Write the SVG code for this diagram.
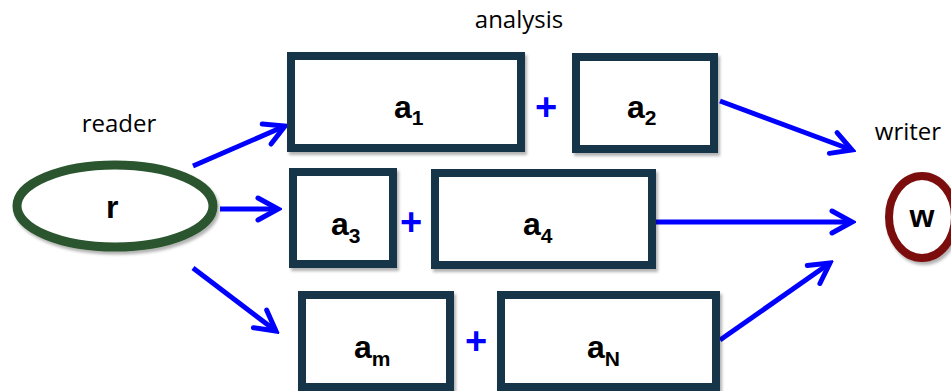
<svg xmlns="http://www.w3.org/2000/svg" width="951" height="391" viewBox="0 0 951 391">
<style>
.box{fill:#fff;stroke:#15364a;stroke-width:8;filter:url(#sh)}
.lbl{font-family:"Liberation Sans",Arial,sans-serif;font-weight:bold;font-size:32px;fill:#000}
.sub{font-size:21px}
.plus{font-family:"Liberation Sans",Arial,sans-serif;font-weight:bold;font-size:38px;fill:#0000ff;text-anchor:middle}
.cap{font-family:"Open Sans","Liberation Sans",Arial,sans-serif;font-size:24px;fill:#000;text-anchor:middle}
.arr{stroke:#0000ff;stroke-width:5;fill:none;marker-end:url(#ah)}
</style>
<defs>
<filter id="sh" x="-10%" y="-10%" width="130%" height="130%">
<feDropShadow dx="2" dy="3" stdDeviation="1.8" flood-color="#000" flood-opacity="0.3"/>
</filter>
<marker id="ah" markerUnits="userSpaceOnUse" viewBox="-24 -14 28 28" refX="0" refY="0" markerWidth="28" markerHeight="28" orient="auto">
<path d="M-20,-11 L0,0 L-20,11" fill="none" stroke="#0000ff" stroke-width="5" stroke-linecap="round" stroke-linejoin="miter"/>
</marker>
</defs>
<rect width="951" height="391" fill="#fff"/>
<text class="cap" x="519" y="28">analysis</text>
<text class="cap" x="119" y="132">reader</text>
<text class="cap" x="908" y="140">writer</text>

<g id="connectors">
<line class="arr" x1="193" y1="166" x2="285" y2="126"/>
<line class="arr" x1="220" y1="209" x2="278" y2="209"/>
<line class="arr" x1="193" y1="268" x2="276" y2="331"/>
<line class="arr" x1="720" y1="101" x2="852" y2="150"/>
<line class="arr" x1="656" y1="222" x2="852" y2="222"/>
<line class="arr" x1="720" y1="340" x2="830" y2="263"/>
</g>

<g id="reader">
<ellipse cx="115" cy="206" rx="98" ry="41" fill="#fff" stroke="#2a552d" stroke-width="9" filter="url(#sh)"/>
<text class="lbl" x="106" y="218" font-size="29">r</text>
</g>
<g id="writer">
<ellipse cx="922" cy="217" rx="33" ry="41" fill="#fff" stroke="#7b0d0d" stroke-width="8" filter="url(#sh)"/>
<text class="lbl" x="922" y="227" font-size="24" text-anchor="middle">w</text>
</g>

<g id="a1">
<rect class="box" x="291" y="56" width="230" height="92"/>
<text class="lbl" x="394" y="118">a<tspan class="sub" dy="7">1</tspan></text>
</g>
<text class="plus" x="546" y="120">+</text>
<g id="a2">
<rect class="box" x="576" y="57" width="138" height="92"/>
<text class="lbl" x="627" y="118">a<tspan class="sub" dy="7">2</tspan></text>
</g>

<g id="a3">
<rect class="box" x="293" y="172" width="100" height="92"/>
<text class="lbl" x="331" y="235">a<tspan class="sub" dy="8">3</tspan></text>
</g>
<text class="plus" x="411" y="235">+</text>
<g id="a4">
<rect class="box" x="435" y="173" width="217" height="92"/>
<text class="lbl" x="523" y="235">a<tspan class="sub" dy="8">4</tspan></text>
</g>

<g id="am">
<rect class="box" x="302" y="295" width="148" height="92"/>
<text class="lbl" x="354" y="358">a<tspan class="sub" dy="8">m</tspan></text>
</g>
<text class="plus" x="476" y="354">+</text>
<g id="aN">
<rect class="box" x="501" y="295" width="215" height="92"/>
<text class="lbl" x="587" y="358">a<tspan class="sub" dy="8">N</tspan></text>
</g>
</svg>
